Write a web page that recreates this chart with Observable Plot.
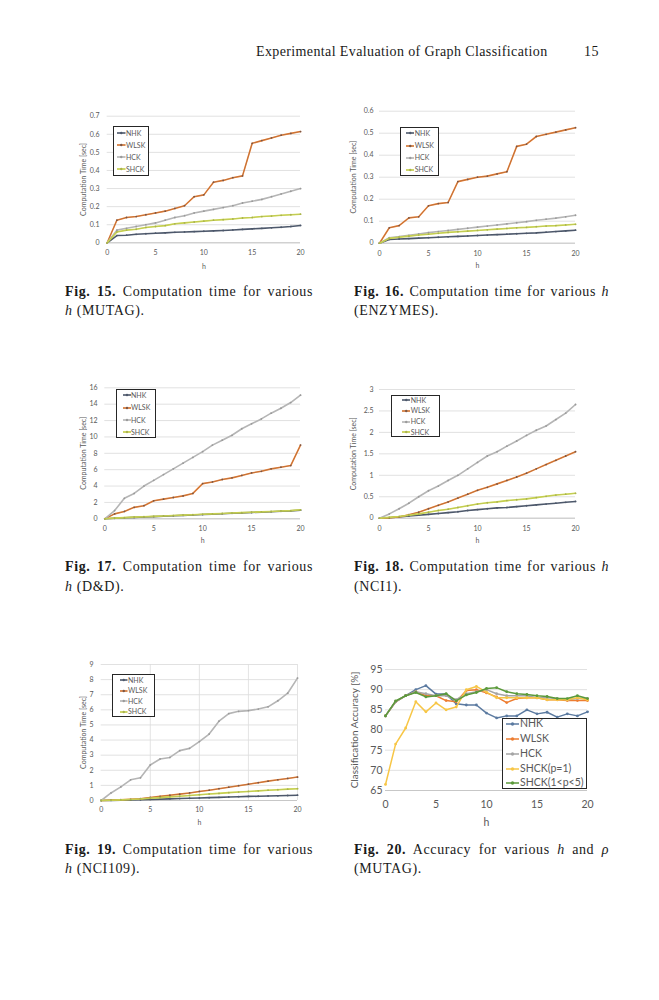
<!DOCTYPE html>
<html><head><meta charset="utf-8">
<script src="https://cdn.jsdelivr.net/npm/d3@7"></script>
<script src="https://cdn.jsdelivr.net/npm/@observablehq/plot@0.6"></script>
<style>
body{margin:0;background:#fff;}
#page{position:relative;width:659px;height:1000px;overflow:hidden;background:#fff;}
.serif{position:absolute;font-family:"Liberation Serif","Times New Roman",serif;color:#1a1a1a;font-size:14px;letter-spacing:0.38px;line-height:14px;height:14px;white-space:nowrap;}
.cap{letter-spacing:0.6px;}
.just{text-align:justify;text-align-last:justify;white-space:normal;overflow:hidden;}
.legend{position:absolute;border:1.3px solid #262626;background:#fff;box-sizing:border-box;}
.lgitem{position:absolute;font-family:Lato,"Open Sans",sans-serif;color:#595959;white-space:nowrap;}
svg.plotsvg{position:absolute;overflow:visible;}
</style>
</head><body>
<div id="page"></div>
<script>
// ---------- data ----------
const hValues = [0,1,2,3,4,5,6,7,8,9,10,11,12,13,14,15,16,17,18,19,20];
const xTicks = [0,5,10,15,20];
const timeNames = ["NHK","WLSK","HCK","SHCK"];
const accNames = ["NHK","WLSK","HCK","SHCK(p=1)","SHCK(1<p<5)"];

// Fig.15 MUTAG computation time [sec]
const mutagNHK  = [0,0.040,0.042,0.047,0.050,0.053,0.055,0.058,0.060,0.062,0.064,0.066,0.068,0.071,0.074,0.077,0.080,0.083,0.086,0.090,0.096];
const mutagWLSK = [0,0.125,0.140,0.145,0.155,0.165,0.175,0.190,0.205,0.255,0.265,0.335,0.345,0.360,0.370,0.550,0.565,0.580,0.595,0.605,0.615];
const mutagHCK  = [0,0.070,0.080,0.090,0.100,0.110,0.125,0.140,0.150,0.165,0.175,0.185,0.195,0.205,0.220,0.230,0.240,0.255,0.270,0.285,0.300];
const mutagSHCK = [0,0.060,0.070,0.075,0.085,0.090,0.095,0.105,0.110,0.115,0.120,0.125,0.128,0.132,0.137,0.140,0.145,0.148,0.152,0.155,0.158];
const ticks15 = [0,0.1,0.2,0.3,0.4,0.5,0.6,0.7];

// Fig.16 ENZYMES
const enzNHK  = [0,0.017,0.019,0.021,0.023,0.025,0.027,0.029,0.031,0.033,0.035,0.037,0.039,0.041,0.043,0.045,0.047,0.050,0.053,0.056,0.059];
const enzWLSK = [0,0.070,0.080,0.115,0.120,0.170,0.180,0.185,0.280,0.290,0.300,0.305,0.315,0.325,0.440,0.450,0.485,0.495,0.505,0.515,0.525];
const enzHCK  = [0,0.025,0.030,0.036,0.042,0.048,0.053,0.058,0.063,0.068,0.073,0.078,0.083,0.088,0.093,0.098,0.104,0.109,0.114,0.120,0.127];
const enzSHCK = [0,0.022,0.027,0.032,0.037,0.041,0.045,0.049,0.052,0.055,0.058,0.061,0.064,0.067,0.070,0.072,0.075,0.078,0.080,0.083,0.086];
const ticks16 = [0,0.1,0.2,0.3,0.4,0.5,0.6];

// Fig.17 D&D
const ddNHK  = [0,0.07,0.12,0.17,0.22,0.27,0.32,0.37,0.42,0.47,0.52,0.57,0.62,0.67,0.72,0.77,0.82,0.87,0.92,0.97,1.05];
const ddWLSK = [0,0.6,0.9,1.4,1.6,2.2,2.4,2.6,2.8,3.1,4.3,4.5,4.8,5.0,5.3,5.6,5.8,6.1,6.3,6.5,9.0];
const ddHCK  = [0,1.0,2.5,3.1,4.0,4.7,5.4,6.1,6.8,7.5,8.2,9.0,9.6,10.2,11.0,11.6,12.2,12.9,13.5,14.2,15.1];
const ddSHCK = [0,0.08,0.14,0.20,0.25,0.30,0.35,0.40,0.45,0.50,0.55,0.60,0.65,0.70,0.75,0.80,0.85,0.90,0.95,1.00,1.10];
const ticks17 = [0,2,4,6,8,10,12,14,16];

// Fig.18 NCI1
const nci1NHK  = [0,0.01,0.03,0.05,0.07,0.09,0.11,0.13,0.15,0.18,0.20,0.22,0.24,0.25,0.27,0.29,0.31,0.33,0.35,0.37,0.39];
const nci1WLSK = [0,0.01,0.03,0.08,0.14,0.22,0.30,0.38,0.47,0.56,0.65,0.72,0.80,0.88,0.96,1.05,1.15,1.25,1.35,1.45,1.55];
const nci1HCK  = [0,0.10,0.22,0.35,0.50,0.64,0.75,0.88,1.00,1.15,1.30,1.45,1.55,1.68,1.80,1.93,2.05,2.15,2.30,2.45,2.65];
const nci1SHCK = [0,0.02,0.04,0.07,0.10,0.14,0.18,0.21,0.25,0.29,0.33,0.36,0.38,0.41,0.43,0.45,0.48,0.51,0.54,0.56,0.58];
const ticks18 = [0,0.5,1,1.5,2,2.5,3];

// Fig.19 NCI109
const nci109NHK  = [0,0.01,0.02,0.03,0.05,0.07,0.09,0.11,0.13,0.15,0.17,0.19,0.21,0.23,0.25,0.27,0.28,0.30,0.31,0.33,0.35];
const nci109WLSK = [0,0.02,0.05,0.08,0.12,0.20,0.27,0.35,0.42,0.50,0.60,0.68,0.78,0.88,0.98,1.08,1.18,1.28,1.37,1.46,1.55];
const nci109HCK  = [0,0.5,0.9,1.37,1.5,2.35,2.75,2.85,3.3,3.45,3.9,4.4,5.25,5.75,5.9,5.95,6.05,6.2,6.6,7.1,8.1];
const nci109SHCK = [0,0.02,0.04,0.07,0.10,0.15,0.19,0.24,0.28,0.33,0.38,0.43,0.47,0.52,0.56,0.60,0.64,0.68,0.71,0.75,0.78];
const ticks19 = [0,1,2,3,4,5,6,7,8,9];

// Fig.20 MUTAG accuracy [%]
const accNHK   = [83.5,87,88.5,90,91,88.9,88.9,86.5,86.2,86.2,84.2,83,83.5,83.5,85,84,84.4,83.2,84,83.5,84.5];
const accWLSK  = [83.5,87,88.5,89.5,88.5,88.5,87.3,87,89.8,90,89.2,88.2,86.8,87.8,88,88,87.5,87.5,87.3,87.3,87.3];
const accHCK   = [83.5,87,88.5,89.5,89,88.5,88.5,87.5,89,89.5,90,89,88.5,88.5,88.5,88,88,87.8,87.5,87.8,87.8];
const accSHCK1 = [66.5,76.5,80.5,87,84.5,86.7,85,85.7,90,90.8,89.4,88,88,88,88,88,87.5,87.5,87.5,88,87.5];
const accSHCK2 = [83.5,87.2,88.5,89.3,88.2,88.5,89,87.2,88.7,89.3,90.3,90.5,89.5,89,88.8,88.5,88.3,87.8,87.8,88.5,87.8];
const ticks20 = [65,70,75,80,85,90,95];

// ---------- styles ----------
const timeColor = {NHK:"#4d586b", WLSK:"#ee8437", HCK:"#b5b5b5", SHCK:"#cdd845"};
const timeCore  = {NHK:null, WLSK:"#8a5a3c", HCK:null, SHCK:"#b3ba6a"};
const timeDot   = {NHK:"#4d586b", WLSK:"#7a5646", HCK:"#9a9a9a", SHCK:"#a9b34e"};
const accColor  = {"NHK":"#5b7aa0","WLSK":"#ed7d31","HCK":"#a5a5a5","SHCK(p=1)":"#f7c646","SHCK(1<p<5)":"#5b9a3b"};

const page = document.getElementById("page");
const fmt = d => String(d);

function serifLine(html, left, centerY, width, extra) {
  const d = document.createElement("div");
  d.className = "serif" + (width ? " just" : "") + (extra ? " " + extra : "");
  d.style.left = left + "px";
  d.style.top = (centerY - 7) + "px";
  if (width) d.style.width = width + "px";
  d.innerHTML = html;
  page.appendChild(d);
}

function chart(cfg) {
  const rows = cfg.names.flatMap((n, i) => cfg.values[i].map((v, j) => ({h: hValues[j], v, s: n})));
  const marks = [
    Plot.gridY(cfg.yTicks, {stroke: "#d9d9d9", strokeOpacity: 1, strokeWidth: 0.8}),
    cfg.xGrid ? Plot.gridX(xTicks.slice(1), {stroke: "#dcdcdc", strokeOpacity: 1, strokeWidth: 0.8}) : null,
    Plot.ruleY([cfg.yDomain[0]], {stroke: "#c4c4c4", strokeWidth: 0.9}),
    Plot.axisY(cfg.yTicks, {tickSize: 0, tickPadding: cfg.yPad, fontSize: cfg.fs, label: null, tickFormat: fmt}),
    Plot.axisY([], {label: cfg.yLabel, labelAnchor: "center", labelArrow: "none", labelOffset: cfg.yLabOff, fontSize: cfg.fsLab ?? cfg.fs}),
    Plot.axisX(xTicks, {tickSize: 0, tickPadding: cfg.xPad, fontSize: cfg.fs, tickFormat: fmt, label: "h", labelAnchor: "center", labelArrow: "none", labelOffset: cfg.xLabOff})
  ];
  for (const n of cfg.names) {
    const d = rows.filter(r => r.s === n);
    marks.push(Plot.line(d, {x: "h", y: "v", stroke: cfg.colors[n], strokeWidth: cfg.sw}));
    if (cfg.cores && cfg.cores[n]) marks.push(Plot.line(d, {x: "h", y: "v", stroke: cfg.cores[n], strokeWidth: 0.45}));
    marks.push(Plot.dot(d, {x: "h", y: "v", r: cfg.r, fill: cfg.dots ? cfg.dots[n] : cfg.colors[n], stroke: "none"}));
  }
  const svg = Plot.plot({
    width: cfg.w, height: cfg.h,
    marginLeft: cfg.m[0], marginRight: cfg.m[1], marginTop: cfg.m[2], marginBottom: cfg.m[3],
    x: {domain: [0, 20]},
    y: {domain: cfg.yDomain},
    style: {fontFamily: "Lato, 'Open Sans', sans-serif", color: "#595959", background: "transparent", overflow: "visible"},
    marks
  });
  svg.classList.add("plotsvg");
  svg.style.left = cfg.left + "px";
  svg.style.top = cfg.top + "px";
  page.appendChild(svg);

  // legend (HTML)
  const L = cfg.legend;
  const box = document.createElement("div");
  box.className = "legend";
  Object.assign(box.style, {left: L.x + "px", top: L.y + "px", width: L.w + "px", height: L.h + "px"});
  page.appendChild(box);
  cfg.names.forEach((n, i) => {
    const cy = L.rows[i];
    const len = L.sw2 - L.sw1;
    const sw = document.createElementNS("http://www.w3.org/2000/svg", "svg");
    sw.setAttribute("width", len);
    sw.setAttribute("height", 6);
    sw.style.position = "absolute";
    sw.style.left = L.sw1 + "px";
    sw.style.top = (cy - 3) + "px";
    sw.innerHTML = `<line x1="0" y1="3" x2="${len}" y2="3" stroke="${cfg.colors[n]}" stroke-width="${cfg.sw}"/>` +
      (cfg.cores && cfg.cores[n] ? `<line x1="0" y1="3" x2="${len}" y2="3" stroke="${cfg.cores[n]}" stroke-width="0.45"/>` : "") +
      `<circle cx="${len/2}" cy="3" r="${cfg.r + 0.3}" fill="${cfg.dots ? cfg.dots[n] : cfg.colors[n]}"/>`;
    page.appendChild(sw);
    const t = document.createElement("div");
    t.className = "lgitem";
    t.textContent = n;
    Object.assign(t.style, {left: L.tx + "px", top: (cy - L.fs * 0.62) + "px", fontSize: L.fs + "px", lineHeight: (L.fs * 1.2) + "px"});
    page.appendChild(t);
  });
}

// header
serifLine("Experimental Evaluation of Graph Classification", 256, 52);
serifLine("15", 584, 52);

const timeBase = {names: timeNames, colors: timeColor, cores: timeCore, dots: timeDot, sw: 1.6, r: 0.9, fs: 7, yLabel: "Computation Time [sec]"};

chart({...timeBase, values: [mutagNHK, mutagWLSK, mutagHCK, mutagSHCK], yDomain: [0, 0.7], yTicks: ticks15,
  left: 60, top: 100, w: 250, h: 180, m: [46.7, 10, 15.7, 37.7], yPad: 7.7, yLabOff: 26.2, xPad: 7.2, xLabOff: 25.7,
  legend: {x: 113, y: 126, w: 36, h: 50, rows: [133, 145, 157, 169], sw1: 117, sw2: 125.5, tx: 126, fs: 7}});

chart({...timeBase, values: [enzNHK, enzWLSK, enzHCK, enzSHCK], yDomain: [0, 0.6], yTicks: ticks16,
  left: 340, top: 100, w: 260, h: 180, m: [39, 25, 10.7, 37.3], yPad: 6, yLabOff: 28.5, xPad: 7.8, xLabOff: 24.8,
  legend: {x: 400, y: 127, w: 39, h: 49, rows: [133, 145.5, 157.5, 169.5], sw1: 405.5, sw2: 414, tx: 414.7, fs: 7}});

chart({...timeBase, values: [ddNHK, ddWLSK, ddHCK, ddSHCK], yDomain: [0, 16], yTicks: ticks17,
  left: 60, top: 375, w: 250, h: 175, m: [44.3, 10, 12.3, 31.7], yPad: 7.3, yLabOff: 23.8, xPad: 7.2, xLabOff: 24.2,
  legend: {x: 116, y: 389, w: 40, h: 49, rows: [395, 407.5, 420, 432], sw1: 122.5, sw2: 130.5, tx: 131, fs: 7}});

chart({...timeBase, values: [nci1NHK, nci1WLSK, nci1HCK, nci1SHCK], yDomain: [0, 3], yTicks: ticks18,
  left: 340, top: 375, w: 260, h: 175, m: [39, 25, 14, 32.3], yPad: 6, yLabOff: 28.5, xPad: 7.8, xLabOff: 24.8,
  legend: {x: 391, y: 395, w: 49, h: 42, rows: [400, 410.5, 421.5, 432], sw1: 401.5, sw2: 410, tx: 410.7, fs: 7}});

chart({...timeBase, values: [nci109NHK, nci109WLSK, nci109HCK, nci109SHCK], yDomain: [0, 9], yTicks: ticks19, xGrid: true,
  left: 60, top: 650, w: 250, h: 180, m: [40.7, 13, 14, 30], yPad: 7.7, yLabOff: 20.2, xPad: 6.5, xLabOff: 24.5,
  legend: {x: 112, y: 674, w: 43, h: 43, rows: [680, 690.5, 701, 711.5], sw1: 120, sw2: 127.5, tx: 128, fs: 7}});

chart({names: accNames, colors: accColor, sw: 1.5, r: 1.4, fs: 10.5, fsLab: 10, yLabel: "Classification Accuracy [%]",
  values: [accNHK, accWLSK, accHCK, accSHCK1, accSHCK2], yDomain: [65, 95], yTicks: ticks20,
  left: 340, top: 650, w: 270, h: 180, m: [45, 23, 19, 40], yPad: 3, yLabOff: 35, xPad: 10.5, xLabOff: 35,
  legend: {x: 502, y: 718, w: 85, h: 71, rows: [724, 739, 754, 769, 783], sw1: 506, sw2: 519, tx: 520, fs: 10.5}});

// captions
const capL = 65, capR = 354, wL = 248, wR = 255;
serifLine("<b>Fig. 15.</b> Computation time for various", capL, 292, wL, "cap");
serifLine("<i>h</i> (MUTAG).", capL, 311, 0, "cap");
serifLine("<b>Fig. 16.</b> Computation time for various <i>h</i>", capR, 292, wR, "cap");
serifLine("(ENZYMES).", capR, 311, 0, "cap");
serifLine("<b>Fig. 17.</b> Computation time for various", capL, 567, wL, "cap");
serifLine("<i>h</i> (D&amp;D).", capL, 587, 0, "cap");
serifLine("<b>Fig. 18.</b> Computation time for various <i>h</i>", capR, 567, wR, "cap");
serifLine("(NCI1).", capR, 587, 0, "cap");
serifLine("<b>Fig. 19.</b> Computation time for various", capL, 850, wL, "cap");
serifLine("<i>h</i> (NCI109).", capL, 869, 0, "cap");
serifLine("<b>Fig. 20.</b> Accuracy for various <i>h</i> and <i>ρ</i>", capR, 850, wR, "cap");
serifLine("(MUTAG).", capR, 869, 0, "cap");
</script>
</body></html>
